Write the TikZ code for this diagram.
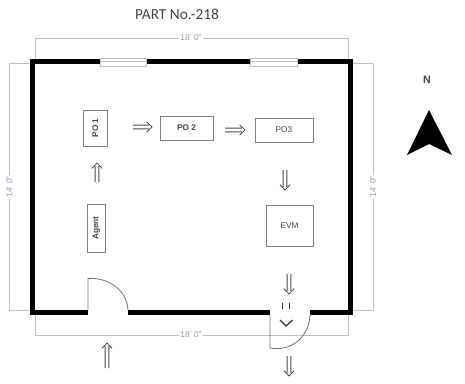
\documentclass[tikz,border=0pt]{standalone}
\usepackage{fontspec}
\setmainfont{Liberation Sans}
\newfontfamily\titlefont{Carlito}
\usetikzlibrary{calc}
\definecolor{dimc}{RGB}{190,190,222}
\definecolor{dimt}{RGB}{150,150,195}
\definecolor{boxc}{RGB}{130,130,130}
\definecolor{txtc}{RGB}{70,70,70}
\tikzset{
  x=0.75pt,y=-0.75pt,
  wall/.style={line width=3.9pt,line cap=butt,black},
  dimline/.style={draw=dimc,line width=0.55pt},
  dimtext/.style={font=\fontsize{6.3}{7}\selectfont,text=dimt,fill=white,inner sep=1pt},
  station/.style={draw=boxc,line width=0.6pt,font=\bfseries\fontsize{6.2}{7}\selectfont,text=txtc,inner sep=0pt,fill=white},
  flow/.style={draw=black!70,line width=0.6pt,line join=miter,to path={
    ($(\tikztostart)!1.4pt!90:(\tikztotarget)$) -- ($($(\tikztotarget)!2.4pt!(\tikztostart)$)!1.4pt!90:(\tikztotarget)$)
    ($(\tikztostart)!1.4pt!-90:(\tikztotarget)$) -- ($($(\tikztotarget)!2.4pt!(\tikztostart)$)!1.4pt!-90:(\tikztotarget)$)
    ($($(\tikztotarget)!4pt!(\tikztostart)$)!3.8pt!90:(\tikztotarget)$) -- (\tikztotarget)
    -- ($($(\tikztotarget)!4pt!(\tikztostart)$)!3.8pt!-90:(\tikztotarget)$)
  }},
  swing/.style={draw=black!55,line width=0.6pt},
  windowpane/.style={draw=black!25,fill=white,line width=0.5pt}
}
\begin{document}
\begin{tikzpicture}
\useasboundingbox (0,0) rectangle (465,383);
% title
\node (title) at (177,14) {\titlefont\fontsize{11.5}{13}\selectfont\color{txtc}PART No.-218};
% dimension corners
\coordinate (tl) at (35,38); \coordinate (tr) at (348,38);
\coordinate (bl) at (35,335); \coordinate (br) at (348,335);
\coordinate (ll) at (9.5,63); \coordinate (lb) at (9.5,310);
\coordinate (rl) at (373,63); \coordinate (rb) at (373,310);
\draw[dimline] (35,59) -- (tl) -- (tr) -- (348,59);
\draw[dimline] (35,315) -- (bl) -- (br) -- (348,315);
\draw[dimline] (30,63) -- (ll) -- (lb) -- (30,310);
\draw[dimline] (353,63) -- (rl) -- (rb) -- (353,310);
\node[dimtext] (dimtop) at (191,38) {18' 0"};
\node[dimtext] (dimbot) at (191,335) {18' 0"};
\node[dimtext,rotate=90] (dimleft) at (9.5,187) {14' 0"};
\node[dimtext,rotate=90] (dimright) at (373,187) {14' 0"};
% walls
\draw[wall] (88,312.7) -- (32.5,312.7) -- (32.5,61.5) -- (350.5,61.5) -- (350.5,312.7) -- (310,312.7);
\draw[wall] (128,312.7) -- (270,312.7);
% windows
\draw[windowpane] (100,58) rectangle (146,66);
\draw[windowpane] (250,58) rectangle (297,66);
\draw[black!25,line width=0.4pt] (100,61) -- (146,61) (250,61) -- (297,61);
% doors
\draw[swing] (88,310) -- (88,278.5) .. controls (108,277) and (127,290) .. (128,310);
\draw[swing] (270,315) -- (270,348) .. controls (290,352) and (309,338) .. (310,315);
% stations
\node[station,minimum width=23.5pt*0.75,minimum height=36pt*0.75] (po1) at (95.2,128) {\rotatebox{90}{PO 1}};
\node[station,minimum width=53pt*0.75,minimum height=24pt*0.75] (po2) at (186.5,128) {PO 2};
\node[station,minimum width=58pt*0.75,minimum height=24pt*0.75] (po3) at (284,130) {\mdseries PO3};
\node[station,minimum width=47pt*0.75,minimum height=41pt*0.75] (evm) at (289.5,225.5) {\mdseries EVM};
\node[station,minimum width=17.5pt*0.75,minimum height=48pt*0.75] (agent) at (96.5,228) {\rotatebox{90}{Agent}};
% flow arrows
\coordinate (a1s) at (133,127); \coordinate (a1e) at (152,127);
\coordinate (a2s) at (225,130); \coordinate (a2e) at (245,130);
\coordinate (a3s) at (97,182); \coordinate (a3e) at (97,163);
\coordinate (a4s) at (285,170); \coordinate (a4e) at (285,190);
\coordinate (a5s) at (289,274); \coordinate (a5e) at (289,294);
\coordinate (a6s) at (289,356); \coordinate (a6e) at (289,376);
\coordinate (a7s) at (107,368); \coordinate (a7e) at (107,343);
\draw[flow] (a1s) to (a1e);
\draw[flow] (a2s) to (a2e);
\draw[flow] (a3s) to (a3e);
\draw[flow] (a4s) to (a4e);
\draw[flow] (a5s) to (a5e);
\draw[flow] (a6s) to (a6e);
\draw[flow] (a7s) to (a7e);
% broken arrow in the doorway
\draw[black!80,line width=0.8pt] (282.5,303) -- (282.5,309) (289.5,303) -- (289.5,309);
\draw[black!80,line width=0.9pt] (280,320) -- (286,326) -- (292.5,320);
% north mark
\node[font=\bfseries\fontsize{8}{9}\selectfont,text=txtc] (north) at (427,80) {N};
\fill[black] (429,110) -- (452,155) -- (429,144) -- (407,155) -- cycle;
\end{tikzpicture}
\end{document}
